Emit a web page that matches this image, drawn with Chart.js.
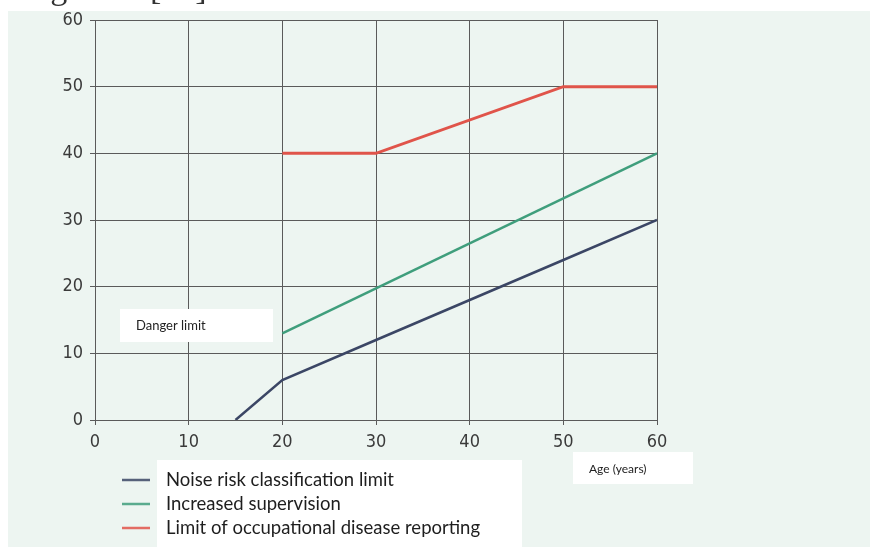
<!DOCTYPE html>
<html>
<head>
<meta charset="utf-8">
<script src="https://cdn.jsdelivr.net/npm/chart.js@4/dist/chart.umd.min.js"></script>
<style>
  html, body { margin: 0; padding: 0; background: #ffffff; }
  canvas { display: block; }
</style>
</head>
<body>
<canvas id="c" width="870" height="547"></canvas>
<script>
// ---- Data ----
const seriesLabels = [
  'Noise risk classification limit',
  'Increased supervision',
  'Limit of occupational disease reporting'
];
const noiseAges = [15, 20, 30, 40, 50, 60];
const noiseLimit = [0, 6, 12, 18, 24, 30];
const supervisionAges = [20, 60];
const supervision = [13, 40];
const reportingAges = [20, 30, 50, 60];
const reporting = [40, 40, 50, 50];
const xTicks = [0, 10, 20, 30, 40, 50, 60];
const yTicks = [0, 10, 20, 30, 40, 50, 60];
const dangerLabel = 'Danger limit';
const xAxisLabel = 'Age (years)';
const captionWord = 'Figure 1';
const captionRef = '[18]';

const colors = ['#3b4665', '#3f9e7c', '#e0544a'];

function pts(xs, ys) { return xs.map((x, i) => ({ x: x, y: ys[i] })); }

const bgPlugin = {
  id: 'bg',
  beforeDraw(chart) {
    const ctx = chart.ctx;
    ctx.save();
    ctx.fillStyle = '#ffffff';
    ctx.fillRect(0, 0, chart.width, chart.height);
    // cut-off caption (only descenders visible)
    ctx.fillStyle = '#333';
    ctx.font = '34px "Liberation Serif"';
    ctx.textBaseline = 'alphabetic';
    ctx.textAlign = 'left';
    ctx.fillText(captionWord, 22, -1);
    ctx.fillText(captionRef, 150, -1);
    ctx.fillStyle = '#edf5f1';
    ctx.fillRect(8, 11, chart.width - 8, chart.height - 11);
    ctx.restore();
  },
  afterDraw(chart) {
    const ctx = chart.ctx;
    ctx.save();
    // Danger limit box
    ctx.fillStyle = '#ffffff';
    ctx.fillRect(120, 309, 153, 33);
    ctx.fillStyle = '#222';
    ctx.font = '13px Lato';
    ctx.textBaseline = 'middle';
    ctx.textAlign = 'left';
    ctx.fillText(dangerLabel, 136, 326);
    // Age label box
    ctx.fillStyle = '#ffffff';
    ctx.fillRect(573, 452, 120, 32);
    ctx.fillStyle = '#222';
    ctx.font = '12px Lato';
    ctx.fillText(xAxisLabel, 589, 469);
    // Legend
    ctx.fillStyle = '#ffffff';
    ctx.fillRect(157, 460, 365, 87);
    const ys = [480, 504, 528];
    chart.data.datasets.forEach((ds, i) => {
      ctx.strokeStyle = ds.borderColor;
      ctx.globalAlpha = 0.85;
      ctx.lineWidth = 2.5;
      ctx.beginPath();
      ctx.moveTo(122, ys[i]);
      ctx.lineTo(150, ys[i]);
      ctx.stroke();
      ctx.globalAlpha = 1;
      ctx.fillStyle = '#1e1e1e';
      ctx.font = '18.5px Lato';
      ctx.fillText(ds.label, 166, ys[i]);
    });
    ctx.restore();
  }
};

const tickFont = { family: '"Liberation Sans Narrow", "DejaVu Sans Condensed", sans-serif', size: 18 };

new Chart(document.getElementById('c'), {
  type: 'line',
  data: {
    datasets: [
      { label: seriesLabels[0], data: pts(noiseAges, noiseLimit), borderColor: colors[0], borderWidth: 2.5 },
      { label: seriesLabels[1], data: pts(supervisionAges, supervision), borderColor: colors[1], borderWidth: 2.5 },
      { label: seriesLabels[2], data: pts(reportingAges, reporting), borderColor: colors[2], borderWidth: 3 }
    ]
  },
  options: {
    responsive: false,
    animation: false,
    devicePixelRatio: 1,
    layout: { padding: { left: 55, top: 20, right: 213, bottom: 97 } },
    elements: { point: { radius: 0, hoverRadius: 0 }, line: { tension: 0, borderCapStyle: 'butt' } },
    plugins: { legend: { display: false }, tooltip: { enabled: false } },
    scales: {
      x: {
        type: 'linear', min: 0, max: 60,
        afterBuildTicks(s) { s.ticks = xTicks.map(v => ({ value: v })); },
        afterFit(s) { s.height = 30; },
        ticks: { font: tickFont, color: '#3a3a3a', padding: 7, maxRotation: 0 },
        grid: { color: '#5a5a5a', lineWidth: 1, tickLength: 5 },
        border: { color: '#5a5a5a', width: 1 }
      },
      y: {
        type: 'linear', min: 0, max: 60,
        afterBuildTicks(s) { s.ticks = yTicks.map(v => ({ value: v })); },
        afterFit(s) { s.width = 40; },
        ticks: { font: tickFont, color: '#3a3a3a', padding: 7 },
        grid: { color: '#5a5a5a', lineWidth: 1, tickLength: 5 },
        border: { color: '#5a5a5a', width: 1 }
      }
    }
  },
  plugins: [bgPlugin]
});
</script>
</body>
</html>
